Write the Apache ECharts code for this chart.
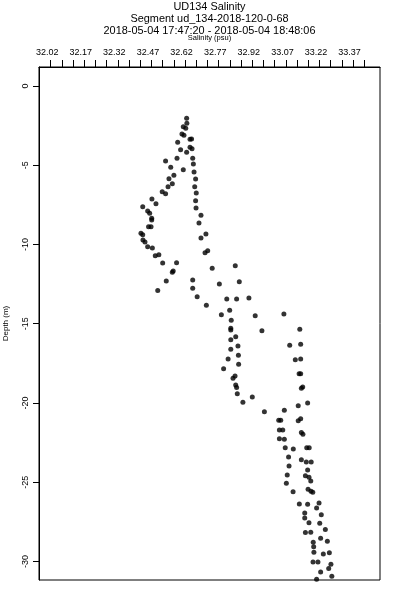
<!DOCTYPE html>
<html>
<head>
<meta charset="utf-8">
<script src="https://cdn.jsdelivr.net/npm/echarts@6/dist/echarts.min.js"></script>
<style>html,body{margin:0;padding:0;background:#fff}#c{width:400px;height:600px}</style>
</head>
<body>
<div id="c"></div>
<script>
const titleLines = ['UD134 Salinity', 'Segment ud_134-2018-120-0-68', '2018-05-04 17:47:20 - 2018-05-04 18:48:06'];
const xAxisName = 'Salinity (psu)';
const yAxisName = 'Depth (m)';
const xLabelValues = [32.02, 32.17, 32.32, 32.47, 32.62, 32.77, 32.92, 33.07, 33.22, 33.37];
const xTickValues = [32.02, 32.07, 32.12, 32.17, 32.22, 32.27, 32.32, 32.37, 32.42, 32.47, 32.52, 32.57, 32.62, 32.67, 32.72, 32.77, 32.82, 32.87, 32.92, 32.97, 33.02, 33.07, 33.12, 33.17, 33.22, 33.27, 33.32, 33.37, 33.42];
const yTickValues = [0, -5, -10, -15, -20, -25, -30];
const xRange = [31.968, 33.49];
const yRange = [-31.17, 1.2];

const salinity = [
  32.627, 32.628, 32.612, 32.623, 32.606, 32.615, 32.642, 32.649, 32.587, 32.642,
  32.651, 32.600, 32.627, 32.654, 32.584, 32.533, 32.657, 32.556, 32.612, 32.660,
  32.570, 32.548, 32.667, 32.563, 32.544, 32.663, 32.518, 32.533, 32.670, 32.472,
  32.490, 32.667, 32.431, 32.453, 32.462, 32.669, 32.471, 32.471, 32.691, 32.457,
  32.468, 32.682, 32.423, 32.431, 32.432, 32.441, 32.713, 32.691, 32.453, 32.474,
  32.721, 32.709, 32.487, 32.503, 32.520, 32.582, 32.567, 32.563, 32.741, 32.844,
  32.536, 32.654, 32.862, 32.773, 32.498, 32.654, 32.674, 32.806, 32.850, 32.905,
  32.715, 32.782, 32.819, 32.933, 33.061, 32.826, 32.824, 32.824, 32.963, 33.132,
  32.846, 32.824, 32.856, 32.824, 33.087, 33.136, 32.858, 32.812, 33.112, 33.136,
  32.859, 32.792, 33.129, 33.136, 32.834, 32.843, 32.846, 32.850, 33.145, 33.139,
  32.853, 32.920, 32.878, 33.125, 33.167, 32.974, 33.063, 33.038, 33.047, 33.125,
  33.136, 33.041, 33.056, 33.139, 33.146, 33.041, 33.063, 33.067, 33.103, 33.163,
  33.174, 33.082, 33.139, 33.161, 33.183, 33.084, 33.167, 33.076, 33.157, 33.173,
  33.181, 33.072, 33.102, 33.169, 33.182, 33.190, 33.130, 33.167, 33.218, 33.207,
  33.154, 33.154, 33.173, 33.228, 33.221, 33.246, 33.157, 33.181, 33.225, 33.255,
  33.192, 33.194, 33.195, 33.237, 33.264, 33.191, 33.213, 33.271, 33.261, 33.225,
  33.275, 33.207
];
const depth = [
  -2.04, -2.35, -2.57, -2.67, -3.03, -3.11, -3.36, -3.34, -3.55, -3.87,
  -3.96, -4.02, -4.18, -4.56, -4.56, -4.73, -4.92, -5.13, -5.28, -5.43,
  -5.63, -5.85, -5.87, -6.16, -6.35, -6.35, -6.67, -6.80, -6.75, -7.13,
  -7.43, -7.24, -7.62, -7.89, -8.03, -7.70, -8.35, -8.45, -8.16, -8.88,
  -8.88, -8.64, -9.29, -9.38, -9.72, -9.84, -9.34, -9.59, -10.14, -10.22,
  -10.39, -10.52, -10.71, -10.64, -11.17, -11.15, -11.67, -11.75, -11.50, -11.34,
  -12.30, -12.24, -12.35, -12.49, -12.91, -12.76, -13.29, -13.44, -13.44, -13.38,
  -13.84, -14.43, -14.15, -14.49, -14.38, -14.78, -15.29, -15.39, -15.44, -15.35,
  -15.82, -16.01, -16.40, -16.61, -16.36, -16.30, -16.99, -17.22, -17.27, -17.22,
  -17.56, -17.84, -18.15, -18.15, -18.44, -18.30, -18.86, -19.03, -18.99, -19.07,
  -19.41, -19.62, -19.96, -20.17, -20.00, -20.55, -20.46, -21.09, -21.09, -21.12,
  -20.99, -21.70, -21.70, -21.87, -21.97, -22.25, -22.29, -22.82, -22.90, -22.82,
  -22.82, -23.41, -23.58, -23.72, -23.72, -23.97, -24.23, -24.54, -24.59, -24.69,
  -24.92, -25.07, -25.60, -25.44, -25.57, -25.63, -26.37, -26.39, -26.31, -26.62,
  -26.94, -27.26, -27.55, -27.05, -27.59, -27.99, -28.18, -28.16, -28.54, -28.73,
  -28.79, -29.07, -29.42, -29.53, -29.45, -30.03, -30.03, -30.18, -30.45, -30.66,
  -30.93, -31.12
];

const FONT = 'Liberation Sans';
const chart = echarts.init(document.getElementById('c'), null, {renderer: 'canvas'});
chart.setOption({
  animation: false,
  backgroundColor: '#fff',
  title: {
    text: titleLines.join('\n'),
    left: 209.5,
    top: 1,
    textAlign: 'center',
    padding: 0,
    textStyle: {fontFamily: FONT, fontSize: 10.9, fontWeight: 'normal', color: '#000', lineHeight: 12}
  },
  grid: {left: 39, right: 20, top: 67, bottom: 20, outerBoundsMode: 'none', containLabel: false, show: true, borderColor: '#000', borderWidth: 1, backgroundColor: 'transparent'},
  xAxis: {
    type: 'value',
    position: 'top',
    min: xRange[0],
    max: xRange[1],
    name: xAxisName,
    nameLocation: 'middle',
    nameGap: 25,
    nameTextStyle: {fontFamily: FONT, fontSize: 7.5, color: '#000'},
    axisLine: {show: true, onZero: false, lineStyle: {color: '#000', width: 1}},
    axisTick: {show: true, inside: false, length: 7, customValues: xTickValues, lineStyle: {color: '#000', width: 1}},
    axisLabel: {show: true, customValues: xLabelValues, margin: 10, padding: [0, 7, 0, 0], fontFamily: FONT, fontSize: 9, color: '#000', formatter: v => v.toFixed(2)},
    splitLine: {show: false}
  },
  yAxis: {
    type: 'value',
    min: yRange[0],
    max: yRange[1],
    name: yAxisName,
    nameLocation: 'middle',
    nameGap: 29,
    nameTextStyle: {fontFamily: FONT, fontSize: 8, color: '#000'},
    axisLine: {show: true, onZero: false, lineStyle: {color: '#000', width: 1}},
    axisTick: {show: true, inside: false, length: 6, customValues: yTickValues, lineStyle: {color: '#000', width: 1}},
    axisLabel: {show: true, customValues: yTickValues, rotate: 90, margin: 9, fontFamily: FONT, fontSize: 9, color: '#000', formatter: v => String(v)},
    splitLine: {show: false}
  },
  series: [{
    type: 'scatter',
    symbol: 'circle',
    symbolSize: 5,
    clip: false,
    itemStyle: {color: '#000'},
    data: salinity.map((s, i) => [s, depth[i]])
  }]
});
</script>
</body>
</html>
